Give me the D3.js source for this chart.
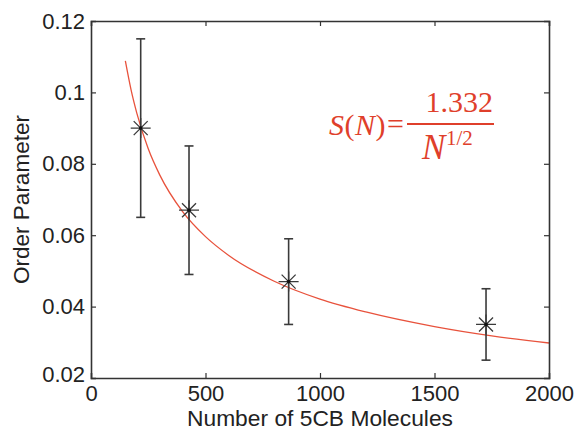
<!DOCTYPE html>
<html>
<head>
<meta charset="utf-8">
<script src="https://cdn.jsdelivr.net/npm/d3@7/dist/d3.min.js"></script>
<style>
  html, body { margin: 0; padding: 0; background: #fff; }
  svg { display: block; }
</style>
</head>
<body>
<svg id="chart" width="579" height="430"></svg>
<script>
// ---- data ----
const moleculeCounts = [217, 428, 863, 1725];
const orderParams    = [0.090, 0.067, 0.047, 0.035];
const errUpper       = [0.115, 0.085, 0.059, 0.045];
const errLower       = [0.065, 0.049, 0.035, 0.025];

// fitted curve S(N) = 1.332 / N^(1/2), sampled points
const fitN = [150, 175, 200, 250, 300, 400, 500, 600, 800, 1000, 1200, 1500, 1750, 2000];
const fitS = [0.1088, 0.1007, 0.0942, 0.0842, 0.0769, 0.0666, 0.0596, 0.0544, 0.0471, 0.0421, 0.0385, 0.0344, 0.0318, 0.0298];

const xTickValues = [0, 500, 1000, 1500, 2000];
const yTickValues = [0.02, 0.04, 0.06, 0.08, 0.1, 0.12];
const xTickLabels = ["0", "500", "1000", "1500", "2000"];
const yTickLabels = ["0.02", "0.04", "0.06", "0.08", "0.1", "0.12"];

const xLabel = "Number of 5CB Molecules";
const yLabel = "Order Parameter";

(function () {
// ---- layout ----
const svg = d3.select("#chart");
const pl = 91, pr = 549, pt = 21, pb = 378;
const x = d3.scaleLinear().domain([0, 2000]).range([pl, pr]);
const y = d3.scaleLinear().domain([0.02, 0.12]).range([pb, pt]);

const axisColor = "#333";
const fontFam = "'Liberation Sans', Arial, Helvetica, sans-serif";
const tickLen = 5;

// fit curve
const line = d3.line()
  .x((d, i) => x(fitN[i]))
  .y((d, i) => y(fitS[i]))
  .curve(d3.curveMonotoneX);
svg.append("path")
  .datum(fitN)
  .attr("d", line)
  .attr("fill", "none")
  .attr("stroke", "#e8523c")
  .attr("stroke-width", 1.3);

// axes
const xAxisB = d3.axisBottom(x).tickValues(xTickValues)
  .tickFormat((d, i) => xTickLabels[i]).tickSize(-tickLen).tickPadding(7);
const gB = svg.append("g").attr("transform", `translate(0,${pb})`).call(xAxisB);
const xAxisT = d3.axisTop(x).tickValues(xTickValues).tickFormat("").tickSize(-tickLen);
const gT = svg.append("g").attr("transform", `translate(0,${pt})`).call(xAxisT);
const yAxisL = d3.axisLeft(y).tickValues(yTickValues)
  .tickFormat((d, i) => yTickLabels[i]).tickSize(-tickLen).tickPadding(6);
const gL = svg.append("g").attr("transform", `translate(${pl},0)`).call(yAxisL);
const yAxisR = d3.axisRight(y).tickValues(yTickValues).tickFormat("").tickSize(-tickLen);
const gR = svg.append("g").attr("transform", `translate(${pr},0)`).call(yAxisR);

[gB, gT, gL, gR].forEach(g => {
  g.select(".domain").attr("stroke", axisColor).attr("stroke-width", 1.6);
  g.selectAll(".tick line").attr("stroke", axisColor).attr("stroke-width", 1.2);
  g.selectAll("text").attr("fill", "#222").style("font-family", fontFam).style("font-size", "22px");
});
gB.selectAll(".tick").filter(d => d === 0 || d === 2000).select("line").remove();
gT.selectAll(".tick").filter(d => d === 0 || d === 2000).select("line").remove();
gL.selectAll(".tick").filter(d => d === 0.02 || d === 0.12).select("line").remove();
gR.selectAll(".tick").filter(d => d === 0.02 || d === 0.12).select("line").remove();
gL.selectAll(".tick").filter(d => d === 0.02).select("text").attr("dy", "0.15em");

// error bars
const ebColor = "#3a3a3a";
const capW = 4.5;
const eb = svg.append("g");
moleculeCounts.forEach((n, i) => {
  const cx = x(n);
  eb.append("line").attr("x1", cx).attr("x2", cx).attr("y1", y(errUpper[i])).attr("y2", y(errLower[i]))
    .attr("stroke", ebColor).attr("stroke-width", 1.6);
  eb.append("line").attr("x1", cx - capW).attr("x2", cx + capW).attr("y1", y(errUpper[i])).attr("y2", y(errUpper[i]))
    .attr("stroke", ebColor).attr("stroke-width", 1.6);
  eb.append("line").attr("x1", cx - capW).attr("x2", cx + capW).attr("y1", y(errLower[i])).attr("y2", y(errLower[i]))
    .attr("stroke", ebColor).attr("stroke-width", 1.6);
});

// asterisk markers
const r = 10, rd = 7;
const markers = svg.append("g");
moleculeCounts.forEach((n, i) => {
  const cx = x(n), cy = y(orderParams[i]);
  const p = `M${cx - r},${cy}L${cx + r},${cy}M${cx},${cy - r}L${cx},${cy + r}` +
            `M${cx - rd},${cy - rd}L${cx + rd},${cy + rd}M${cx - rd},${cy + rd}L${cx + rd},${cy - rd}`;
  markers.append("path").attr("d", p).attr("stroke", ebColor).attr("stroke-width", 1.3).attr("fill", "none");
  markers.append("circle").attr("cx", cx).attr("cy", cy).attr("r", 1.8).attr("fill", "#111");
});

// axis labels
svg.append("text")
  .attr("x", (pl + pr) / 2).attr("y", 426)
  .attr("text-anchor", "middle")
  .attr("textLength", 266).attr("lengthAdjust", "spacingAndGlyphs")
  .style("font-family", fontFam).style("font-size", "21.5px").attr("fill", "#222")
  .text(xLabel);
svg.append("text")
  .attr("transform", `translate(29,${(pt + pb) / 2}) rotate(-90)`)
  .attr("text-anchor", "middle")
  .style("font-family", fontFam).style("font-size", "22.5px").attr("fill", "#222")
  .text(yLabel);

// formula
const fColor = "#df3f2b";
const serif = "'Liberation Serif', 'Times New Roman', serif";
const f = svg.append("g").style("font-family", serif).attr("fill", fColor);
const lhsParts = [
  { t: "S", x: 329, it: true },
  { t: "(", x: 344.5, it: false },
  { t: "N", x: 355, it: true },
  { t: ")", x: 375.5, it: false }
];
lhsParts.forEach(p => {
  f.append("text").attr("x", p.x).attr("y", 135).style("font-size", "30px")
    .style("font-style", p.it ? "italic" : "normal").text(p.t);
});
f.append("text").attr("x", 387).attr("y", 134).style("font-size", "30px").text("=");
f.append("line").attr("x1", 407).attr("x2", 494).attr("y1", 124).attr("y2", 124)
  .attr("stroke", fColor).attr("stroke-width", 2);
f.append("text").attr("x", 493).attr("y", 112).attr("text-anchor", "end").style("font-size", "30px").text("1.332");
f.append("text").attr("x", 422).attr("y", 159).style("font-size", "35px").style("font-style", "italic").text("N");
f.append("text").attr("x", 446).attr("y", 145).style("font-size", "21px").text("1/2");
})();
</script>
</body>
</html>
